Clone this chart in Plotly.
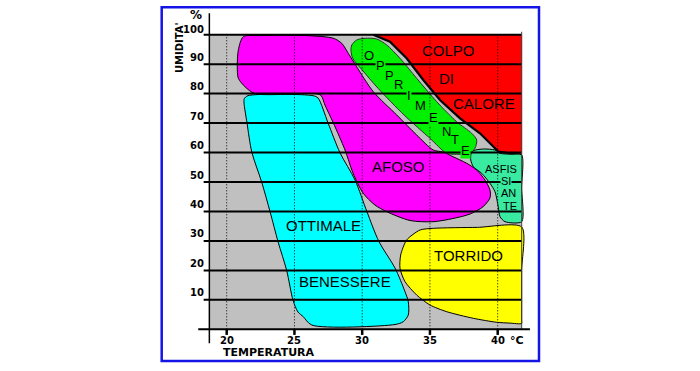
import plotly.graph_objects as go

# ---------------- data (temperature in °C, relative humidity in %) ----------------
TEMP_TICKS = [20, 25, 30, 35, 40]
TEMP_TICK_LABELS = ["20", "25", "30", "35", "40"]
HUM_TICKS = [10, 20, 30, 40, 50, 60, 70, 80, 90, 100]
HUM_TICK_LABELS = ["10", "20", "30", "40", "50", "60", "70", "80", "90", "100"]

FIELD_T = [18.72, 41.77]      # extent of the grey diagram field
FIELD_H = [0, 100]

# COLPO DI CALORE (red)
COLPO_T = [30.82, 41.77, 41.77, 40.04, 38.69, 37.22, 35.74, 34.51, 33.28, 32.05, 30.82]
COLPO_H = [100.0, 100.0, 59.17, 60.35, 66.53, 71.62, 77.83, 84.62, 91.99, 97.62, 100.0]

# OPPRIMENTE (green)
OPPR_T = [34.02, 35.50, 36.97, 38.08, 38.45, 38.32, 37.96, 36.97, 36.24, 35.00, 33.09,
          31.17, 30.00, 29.30, 29.17, 29.23, 29.59, 30.21, 31.07, 31.81, 32.79, 34.02]
OPPR_H = [85.20, 77.26, 70.47, 66.53, 64.26, 61.44, 59.74, 59.40, 59.74, 64.83, 72.74,
          81.81, 88.02, 91.99, 94.80, 96.50, 98.20, 98.78, 98.54, 96.50, 91.99, 85.20]

# AFOSO (magenta)
AFOSO_T = [25.90, 27.87, 28.49, 28.97, 29.59, 30.82, 32.55, 34.02, 35.25, 35.96, 36.70,
           37.71, 38.45, 39.06, 39.43, 39.43, 38.92, 37.96, 36.70, 35.23, 33.53, 31.81,
           30.94, 30.06, 29.32, 28.73, 27.87, 27.25, 26.96, 26.50, 22.09, 21.35, 20.86,
           20.78, 20.86, 21.23, 22.50, 25.90]
AFOSO_H = [99.70, 98.78, 97.08, 93.69, 89.14, 80.65, 72.74, 65.95, 60.86, 60.18, 58.59,
           56.35, 54.07, 50.68, 47.28, 44.57, 41.62, 39.14, 37.61, 36.52, 36.93, 39.92,
           42.19, 46.27, 53.05, 60.86, 70.03, 76.14, 79.40, 80.00, 80.00, 82.35, 85.20,
           89.14, 94.81, 99.32, 99.70, 99.70]

# OTTIMALE BENESSERE (cyan)
OTT_T = [22.58, 23.20, 23.79, 24.43, 24.89, 25.26, 25.65, 26.27, 32.42, 33.03, 33.40,
         33.40, 33.16, 32.42, 31.24, 30.35, 29.47, 28.36, 27.48, 26.74, 26.37, 21.57,
         21.30, 21.28, 21.50, 21.85, 22.58]
OTT_H = [50.00, 39.92, 29.74, 19.89, 9.95, 5.87, 4.28, 1.46, 1.63, 2.58, 4.85,
         9.37, 12.76, 20.81, 29.74, 39.92, 50.68, 59.94, 70.03, 78.51, 79.30, 79.30,
         78.30, 76.80, 70.03, 60.18, 50.00]

# TORRIDO (yellow)
TORR_T = [41.77, 41.77, 41.77, 40.90, 39.93, 38.20, 36.24, 35.00, 34.02, 33.16, 32.79,
          32.84, 33.28, 34.27, 35.25, 38.50, 41.77, 41.77]
TORR_H = [20.00, 3.00, 1.97, 2.10, 2.38, 3.73, 5.97, 8.25, 11.64, 16.16, 20.71,
          25.22, 30.31, 33.71, 34.28, 34.60, 34.73, 20.00]

# ASFISSIANTE (sea green)
ASF_T = [41.77, 41.77, 40.54, 40.17, 40.04, 39.80, 39.43, 38.82, 38.20, 38.01, 38.03,
         38.20, 38.94, 39.80, 40.17, 41.00, 41.77, 41.77]
ASF_H = [48.00, 36.52, 36.52, 38.22, 41.62, 46.71, 49.56, 52.95, 55.19, 57.47, 59.50,
         60.62, 61.20, 60.86, 59.74, 59.40, 59.17, 48.00]

# zone labels
LABELS = ["COLPO", "DI", "CALORE", "AFOSO", "OTTIMALE", "BENESSERE", "TORRIDO"]
LABEL_T = [36.38, 36.24, 38.99, 32.70, 27.11, 28.73, 37.88]
LABEL_H = [94.47, 85.20, 76.48, 55.19, 35.17, 16.16, 24.98]

OPPR_LETTERS = ["O", "P", "P", "R", "I", "M", "E", "N", "T", "E"]
OPPR_LT = [30.52, 31.35, 31.98, 32.69, 33.43, 34.29, 35.28, 36.24, 36.87, 37.61]
OPPR_LH = [92.87, 89.38, 86.15, 82.93, 79.53, 76.04, 72.06, 67.26, 64.26, 60.86]

ASF_LABELS = ["ASFIS", "SI", "AN", "TE"]
ASF_LT = [40.21, 40.63, 40.80, 40.91]
ASF_LH = [54.40, 50.20, 46.10, 42.00]

# ---------------- styling ----------------
GREY = "#C0C0C0"
RED = "#FF0000"
GREEN = "#00F000"
MAGENTA = "#FF00FF"
CYAN = "#00FFFF"
YELLOW = "#FFFF00"
SEAGREEN = "#38EBA0"
BLUE = "#1414E6"
LABEL_FONT = "Liberation Sans, Arial, sans-serif"
AXIS_FONT = "DejaVu Sans, Verdana, sans-serif"

# canvas <-> data mapping (whole 700x371 canvas is the plotting area)
X_RANGE = [3.2694, 54.9299]
Y_RANGE = [-14.155, 111.779]
GRID_T0 = 18.30
AXIS_T = FIELD_T[0]

fig = go.Figure()

def region(tx, hy, fill, line_color="black", line_width=1, shape="spline", smoothing=0.8):
    fig.add_trace(go.Scatter(
        x=tx, y=hy, mode="lines", fill="toself", fillcolor=fill,
        line=dict(color=line_color, width=line_width, shape=shape,
                  smoothing=smoothing if shape == "spline" else None),
        hoverinfo="skip", showlegend=False))

region(COLPO_T, COLPO_H, RED, line_color=RED, line_width=0.5, shape="linear")
# black edge along the heat-stroke boundary
fig.add_trace(go.Scatter(x=COLPO_T[2:], y=COLPO_H[2:], mode="lines",
                         line=dict(color="black", width=2.2),
                         hoverinfo="skip", showlegend=False))
region(OTT_T, OTT_H, CYAN)
region(AFOSO_T, AFOSO_H, MAGENTA)
region(OPPR_T, OPPR_H, GREEN, line_color="#303030")
region(TORR_T, TORR_H, YELLOW, smoothing=0.7)
region(ASF_T, ASF_H, SEAGREEN, smoothing=0.7)

shapes = []
# grey field
shapes.append(dict(type="rect", xref="x", yref="y", x0=FIELD_T[0], x1=FIELD_T[1],
                   y0=FIELD_H[0], y1=FIELD_H[1], fillcolor=GREY, line=dict(width=0),
                   layer="below"))
# horizontal humidity lines
for h in HUM_TICKS:
    shapes.append(dict(type="line", xref="x", yref="y", x0=GRID_T0, x1=FIELD_T[1],
                       y0=h, y1=h, line=dict(color="black", width=2), layer="above"))
# vertical dotted temperature lines + tick marks
for t in TEMP_TICKS:
    shapes.append(dict(type="line", xref="x", yref="y", x0=t, x1=t, y0=0, y1=100.7,
                       line=dict(color="black", width=1, dash="1px,2px"), layer="above"))
    shapes.append(dict(type="line", xref="x", yref="y", x0=t, x1=t, y0=0, y1=-1.9,
                       line=dict(color="black", width=2.5), layer="above"))
# right edge of the field
shapes.append(dict(type="line", xref="x", yref="y", x0=FIELD_T[1], x1=FIELD_T[1],
                   y0=0, y1=101.0, line=dict(color="#404040", width=1), layer="above"))
# axes
shapes.append(dict(type="line", xref="x", yref="y", x0=AXIS_T, x1=AXIS_T,
                   y0=-4.7, y1=107.3, line=dict(color="black", width=1.5), layer="above"))
shapes.append(dict(type="line", xref="x", yref="y", x0=17.9, x1=42.38,
                   y0=0, y1=0, line=dict(color="black", width=2), layer="above"))
# blue frame
shapes.append(dict(type="rect", xref="paper", yref="paper", x0=0.2310, x1=0.7700,
                   y0=0.0270, y1=0.9803, line=dict(color=BLUE, width=2.5),
                   fillcolor="rgba(0,0,0,0)", layer="above"))

ann = []
for txt, t, h in zip(LABELS, LABEL_T, LABEL_H):
    ann.append(dict(x=t, y=h, xref="x", yref="y", text=txt, showarrow=False,
                    font=dict(family=LABEL_FONT, size=15, color="black")))
on_line = {1, 4, 6, 9}
for i, (txt, t, h) in enumerate(zip(OPPR_LETTERS, OPPR_LT, OPPR_LH)):
    a = dict(x=t, y=h, xref="x", yref="y", text=txt, showarrow=False,
             font=dict(family=LABEL_FONT, size=13, color="black"), borderpad=0)
    if i in on_line:
        a["bgcolor"] = GREEN
    ann.append(a)
for i, (txt, t, h) in enumerate(zip(ASF_LABELS, ASF_LT, ASF_LH)):
    a = dict(x=t, y=h, xref="x", yref="y", text=txt, showarrow=False,
             font=dict(family=LABEL_FONT, size=11, color="black"), borderpad=0)
    if txt == "SI":
        a["bgcolor"] = SEAGREEN
    ann.append(a)

# axis tick labels
for t, lab in zip(TEMP_TICKS, TEMP_TICK_LABELS):
    ann.append(dict(x=t, y=0, xref="x", yref="y", text="<b>%s</b>" % lab, showarrow=False,
                    yanchor="middle", yshift=-11.5,
                    font=dict(family=AXIS_FONT, size=10, color="black")))
ann.append(dict(x=TEMP_TICKS[-1], y=0, xref="x", yref="y", text="<b>°C</b>", showarrow=False,
                yanchor="middle", yshift=-11.5, xshift=19.5,
                font=dict(family=AXIS_FONT, size=11, color="black")))
for h, lab in zip(HUM_TICKS, HUM_TICK_LABELS):
    ann.append(dict(x=AXIS_T, y=h, xref="x", yref="y", text="<b>%s</b>" % lab, showarrow=False,
                    xanchor="right", xshift=-3, yanchor="middle",
                    yshift=5 if h == HUM_TICKS[-1] else 7,
                    font=dict(family=AXIS_FONT, size=10, color="black")))
ann.append(dict(x=AXIS_T, y=100, xref="x", yref="y", text="<b>%</b>", showarrow=False,
                xshift=-13, yshift=19.5, font=dict(family=AXIS_FONT, size=12, color="black")))
ann.append(dict(x=AXIS_T, y=100, xref="x", yref="y", text="<b>UMIDITA'</b>", showarrow=False,
                textangle=-90, xshift=-30.3, yshift=-13.3,
                font=dict(family=AXIS_FONT, size=10, color="black")))
ann.append(dict(x=TEMP_TICKS[0], y=0, xref="x", yref="y", text="<b>TEMPERATURA</b>",
                showarrow=False, xshift=42, yshift=-23,
                font=dict(family=AXIS_FONT, size=11, color="black")))

fig.update_layout(
    width=700, height=371, autosize=False,
    margin=dict(l=0, r=0, t=0, b=0, pad=0),
    paper_bgcolor="white", plot_bgcolor="white",
    xaxis=dict(range=X_RANGE, visible=False, fixedrange=True),
    yaxis=dict(range=Y_RANGE, visible=False, fixedrange=True),
    shapes=shapes, annotations=ann, showlegend=False,
)
fig.write_html("out.html", config={"displayModeBar": False},
               post_script="document.body.style.margin='0';")
